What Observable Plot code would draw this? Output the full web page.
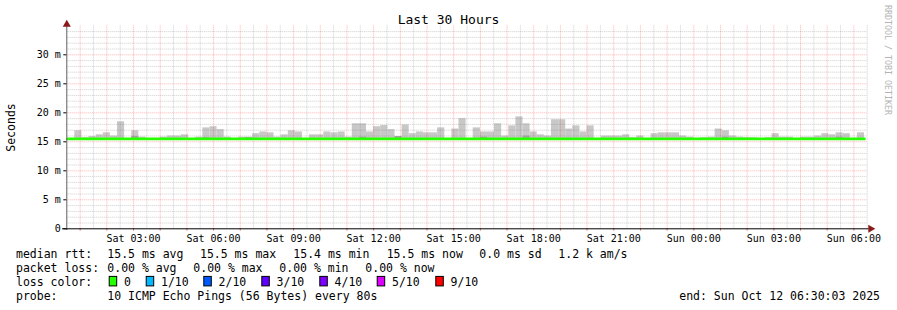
<!DOCTYPE html>
<html><head><meta charset="utf-8">
<script src="https://cdn.jsdelivr.net/npm/d3@7"></script>
<script src="https://cdn.jsdelivr.net/npm/@observablehq/plot@0.6"></script>
<style>
body{margin:0;background:#fff;}
#chart{position:relative;width:897px;height:310px;background:#fff;overflow:hidden;}
#chart svg{position:absolute;left:0;top:0;}
</style></head><body><div id="chart"></div>
<script>
// ---------- data ----------
const title = "Last 30 Hours";
const yLabel = "Seconds";
const watermark = "RRDTOOL / TOBI OETIKER";
const spanHours = 30;            // Sat 00:30 -> Sun 06:30
const binMinutes = 16;           // consolidation step
const binOffsetMinutes = 2;      // first bin start after window start
const smokeFloor = 15.35;        // lowest ping (ms)
const smokeTop = [
  15.5,16.9,15.7,15.9,16.2,16.55,16.0,18.45,15.5,16.9,15.8,15.5,15.5,15.8,16.0,16.0,
  16.2,15.5,15.8,17.4,17.6,17.1,15.8,15.5,15.8,15.8,16.4,16.7,16.55,15.8,16.2,16.9,
  16.7,15.5,16.2,16.2,16.7,16.55,16.7,15.8,18.1,18.1,16.7,17.6,17.8,17.1,15.9,17.9,
  16.4,16.7,16.55,16.55,17.4,15.5,17.2,19.0,15.5,17.4,16.7,16.7,18.1,16.0,17.75,19.3,
  18.1,16.7,16.2,16.0,18.8,18.8,17.2,17.75,16.7,17.75,15.5,16.0,16.0,16.0,16.2,15.7,
  16.0,15.5,16.4,16.55,16.55,16.55,16.0,15.8,15.5,15.7,15.8,17.2,16.9,16.0,15.8,15.7,
  15.7,15.5,15.7,16.4,15.8,15.8,15.5,15.8,15.8,16.0,16.4,16.2,16.55,16.4,15.5,16.55
];
const darkBars = [9, 19, 25, 41, 46, 58, 64, 92, 108];
const darkTop  = [15.9, 15.7, 15.7, 15.8, 15.9, 15.8, 16.0, 15.8, 15.8];
const median = [
  15.5,15.5,15.5,15.5,15.5,15.5,15.5,15.5,15.5,15.5,15.5,15.5,15.5,15.5,15.5,15.5,
  15.5,15.5,15.5,15.5,15.5,15.5,15.5,15.5,15.5,15.5,15.5,15.5,15.5,15.5,15.5,15.5,
  15.5,15.5,15.5,15.5,15.5,15.5,15.5,15.5,15.5,15.5,15.5,15.5,15.5,15.5,15.5,15.5,
  15.5,15.5,15.5,15.5,15.5,15.5,15.5,15.5,15.5,15.5,15.5,15.5,15.5,15.5,15.5,15.5,
  15.5,15.5,15.5,15.5,15.5,15.5,15.5,15.5,15.5,15.5,15.5,15.5,15.5,15.5,15.5,15.5,
  15.5,15.5,15.5,15.5,15.5,15.5,15.5,15.5,15.5,15.5,15.5,15.5,15.5,15.5,15.5,15.5,
  15.5,15.5,15.5,15.5,15.5,15.5,15.5,15.5,15.5,15.5,15.5,15.5,15.5,15.5,15.5,15.5
];
const yTicks = [0, 5, 10, 15, 20, 25, 30];
const yTickLabels = ["0", "5 m", "10 m", "15 m", "20 m", "25 m", "30 m"];
const xTickHours = [2.5, 5.5, 8.5, 11.5, 14.5, 17.5, 20.5, 23.5, 26.5, 29.5];
const xTickLabels = ["Sat 03:00","Sat 06:00","Sat 09:00","Sat 12:00","Sat 15:00",
                     "Sat 18:00","Sat 21:00","Sun 00:00","Sun 03:00","Sun 06:00"];
const rttHead = "median rtt:";
const rttItems = ["15.5 ms avg", "15.5 ms max", "15.4 ms min", "15.5 ms now", "0.0 ms sd", "1.2 k am/s"];
const lossHead = "packet loss:";
const lossItems = ["0.00 % avg", "0.00 % max", "0.00 % min", "0.00 % now"];
const colorHead = "loss color:";
const lossLabels = ["0", "1/10", "2/10", "3/10", "4/10", "5/10", "9/10"];
const lossColors = ["#26ff00", "#00b8ff", "#0059ff", "#5e00ff", "#7e00ff", "#dd00ff", "#ff0000"];
const probeHead = "probe:";
const probeText = "10 ICMP Echo Pings (56 Bytes) every 80s";
const endText = "end: Sun Oct 12 06:30:03 2025";

// ---------- layout ----------
const W = 897, H = 310;
const mono = "'DejaVu Sans Mono', monospace";
const rttX = [107.3, 200, 293.3, 386.7, 479.3, 558.3];
const lossX = [107.3, 193.3, 279.3, 365.3];
const boxX = [108.7, 145.7, 203.3, 261.3, 319.3, 376.7, 435.3];
const lineY = [258.3, 272.1, 285.9, 299.7];

const binStart = smokeTop.map((_, i) => (binOffsetMinutes + i * binMinutes) / 60);
const bars = smokeTop.map((top, i) => ({t0: binStart[i], t1: binStart[i] + binMinutes / 60, top}));
const darks = darkBars.map((b, k) => ({t0: binStart[b], t1: binStart[b] + binMinutes / 60, top: darkTop[k]}));
const medPts = median.map((v, i) => ({t: binStart[i], v}));
medPts.push({t: binStart[median.length - 1] + binMinutes / 60, v: median[median.length - 1]});

const minorX = d3.range(1, spanHours + 1);              // xx:30
const majorX = d3.range(0.5, spanHours, 1);             // xx:00
const minorY = d3.range(1, 35).filter(v => v % 5 !== 0);
const majorY = yTicks.filter(v => v > 0);
const yLab = new Map(yTicks.map((v, i) => [v, yTickLabels[i]]));
const xLab = new Map(xTickHours.map((v, i) => [v, xTickLabels[i]]));

const plot = Plot.plot({
  width: W, height: H,
  marginLeft: 66.3, marginRight: 30.3, marginTop: 25.3, marginBottom: 81.7,
  x: {domain: [0, spanHours], axis: null},
  y: {domain: [0, 35], axis: null},
  style: {fontFamily: mono, fontSize: "10px", color: "#000", background: "transparent", overflow: "visible"},
  marks: [
    Plot.rect(bars, {x1: "t0", x2: "t1", y1: smokeFloor, y2: "top", fill: "#c8c8c8"}),
    Plot.rect(darks, {x1: "t0", x2: "t1", y1: smokeFloor, y2: "top", fill: "#a4a4a4"}),
    Plot.ruleX(minorX, {stroke: "rgba(128,128,128,0.38)", strokeDasharray: "1,1"}),
    Plot.ruleY(minorY, {stroke: "rgba(128,128,128,0.38)", strokeDasharray: "1,1"}),
    Plot.ruleX(majorX, {stroke: "rgba(255,0,0,0.3)", strokeDasharray: "1,1"}),
    Plot.ruleY(majorY, {stroke: "rgba(255,0,0,0.3)", strokeDasharray: "1,1"}),
    Plot.line(medPts, {x: "t", y: "v", curve: "step-after", stroke: "#26ff00", strokeWidth: 2.6}),
    Plot.ruleX(majorX, {y1: 0, y2: -0.4, stroke: "#e07070"}),
    Plot.ruleX([0], {y1: -0.3, y2: 35.2, stroke: "#606060"}),
    Plot.ruleY([0], {x1: -0.16, x2: spanHours + 0.08, stroke: "#000"}),
    Plot.dot([0], {x: 0, y: 35.25, symbol: "triangle", r: 3, fill: "#8b1a1a", stroke: null}),
    Plot.dot([0], {x: spanHours + 0.13, y: 0, symbol: "triangle", rotate: 90, r: 3, fill: "#8b1a1a", stroke: null}),
    Plot.axisY(yTicks, {tickFormat: d => yLab.get(d), tickSize: 3, tickPadding: 3, fontSize: 10}),
    Plot.axisX(xTickHours, {tickFormat: d => xLab.get(d), tickSize: 0, tickPadding: 6.5, fontSize: 10})
  ]
});

const chart = d3.select("#chart");
chart.node().appendChild(plot);

// ---------- text overlay ----------
const ov = chart.append("svg").attr("width", W).attr("height", H)
  .attr("font-family", mono).attr("fill", "#000");

ov.append("text").attr("x", 448.5).attr("y", 24).attr("text-anchor", "middle")
  .attr("font-size", 13).text(title);
ov.append("text").attr("transform", "translate(15,127.5) rotate(-90)").attr("text-anchor", "middle")
  .attr("font-size", 11.5).text(yLabel);
ov.append("text").attr("transform", "translate(884.7,5) rotate(90)")
  .attr("font-size", 8.3).attr("fill", "#b4b4b4").text(watermark);

const lg = ov.append("g").attr("font-size", 11.5).attr("xml:space", "preserve");
lg.append("text").attr("x", 16).attr("y", lineY[0]).text(rttHead);
rttItems.forEach((t, i) => lg.append("text").attr("x", rttX[i]).attr("y", lineY[0]).text(t));
lg.append("text").attr("x", 16).attr("y", lineY[1]).text(lossHead);
lossItems.forEach((t, i) => lg.append("text").attr("x", lossX[i]).attr("y", lineY[1]).text(t));
lg.append("text").attr("x", 16).attr("y", lineY[2]).text(colorHead);
lossLabels.forEach((t, i) => {
  lg.append("rect").attr("x", boxX[i] + 0.5).attr("y", lineY[2] - 9.5).attr("width", 7.5).attr("height", 9.5)
    .attr("fill", lossColors[i]).attr("stroke", "#000").attr("stroke-width", 1);
  lg.append("text").attr("x", boxX[i] + 15.3).attr("y", lineY[2]).text(t);
});
lg.append("text").attr("x", 16).attr("y", lineY[3]).text(probeHead);
lg.append("text").attr("x", 107.3).attr("y", lineY[3]).text(probeText);
lg.append("text").attr("x", 880).attr("y", lineY[3]).attr("text-anchor", "end").text(endText);
</script></body></html>
